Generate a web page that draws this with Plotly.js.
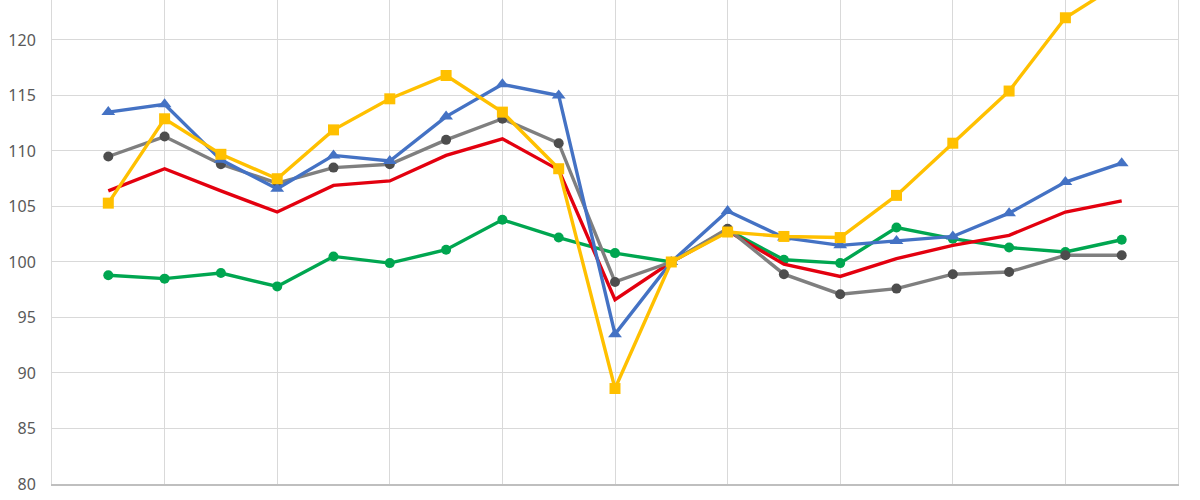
<!DOCTYPE html>
<html>
<head>
<meta charset="utf-8">
<script src="https://cdn.plot.ly/plotly-3.0.1.min.js"></script>
<style>html,body{margin:0;padding:0;background:#fff;}#chart{width:1200px;height:500px;}</style>
</head>
<body>
<div id="chart"></div>
<script>
// x positions (period index) and tick labels
const periods = [0,1,2,3,4,5,6,7,8,9,10,11,12,13,14,15,16,17,18];
const tickPositions = [-1,1,3,5,7,9,11,13,15,17,19];
const tickLabels = ["2000","2002","2004","2006","2008","2010","2012","2014","2016","2018","2020"];

const seriesBlue   = [113.5,114.2,109.2,106.6,109.6,109.1,113.1,116.0,115.0,93.5,100.0,104.6,102.2,101.5,101.9,102.3,104.4,107.2,108.9];
const seriesYellow = [105.3,112.9,109.7,107.5,111.9,114.7,116.8,113.5,108.4,88.6,100.0,102.7,102.3,102.2,106.0,110.7,115.4,122.0,125.2];
const seriesGray   = [109.5,111.3,108.8,107.1,108.5,108.8,111.0,112.9,110.7,98.2,100.0,103.0,98.9,97.1,97.6,98.9,99.1,100.6,100.6];
const seriesRed    = [106.4,108.4,106.4,104.5,106.9,107.3,109.6,111.1,108.3,96.6,100.0,102.8,99.8,98.7,100.3,101.5,102.4,104.5,105.5];
const seriesGreen  = [98.8,98.5,99.0,97.8,100.5,99.9,101.1,103.8,102.2,100.8,100.0,102.9,100.2,99.9,103.1,102.1,101.3,100.9,102.0];

const traces = [
  {x: periods, y: seriesGreen, mode: 'lines+markers', line: {color: '#00A650', width: 3.4},
   marker: {symbol: 'circle', size: 10, color: '#00A650'}},
  {x: periods, y: seriesRed, mode: 'lines', line: {color: '#E3000F', width: 3.4}},
  {x: periods, y: seriesGray, mode: 'lines+markers', line: {color: '#7F7F7F', width: 3.4},
   marker: {symbol: 'circle', size: 10, color: '#4D4D4D'}},
  {x: periods, y: seriesBlue, mode: 'lines+markers', line: {color: '#4472C4', width: 3.4},
   marker: {symbol: 'triangle-up', size: 12, color: '#4472C4'}},
  {x: periods, y: seriesYellow, mode: 'lines+markers', line: {color: '#FFC000', width: 3.4},
   marker: {symbol: 'square', size: 11, color: '#FFC000'}}
];

const layout = {
  width: 1200, height: 500,
  margin: {l: 52, r: 22, t: 0, b: 16},
  paper_bgcolor: '#ffffff', plot_bgcolor: '#ffffff',
  showlegend: false,
  xaxis: {
    range: [-1, 19], tickmode: 'array', tickvals: tickPositions, ticktext: tickLabels,
    showgrid: true, gridcolor: '#D9D9D9', gridwidth: 1, zeroline: false,
    showline: true, linecolor: '#BFBFBF', linewidth: 1.5,
    ticks: '', ticklabelstandoff: 7,
    tickfont: {family: 'Noto Sans, sans-serif', size: 16, color: '#999999'}
  },
  yaxis: {
    range: [80, 123.6], tickmode: 'array', tickvals: [80,85,90,95,100,105,110,115,120],
    showgrid: true, gridcolor: '#D9D9D9', gridwidth: 1, zeroline: false,
    showline: true, mirror: true, linecolor: '#D9D9D9', linewidth: 1,
    ticks: '', ticklabelstandoff: 12,
    tickfont: {family: 'Noto Sans, sans-serif', size: 16, color: '#595959'}
  }
};

Plotly.newPlot('chart', traces, layout, {displayModeBar: false, staticPlot: true});
</script>
</body>
</html>
